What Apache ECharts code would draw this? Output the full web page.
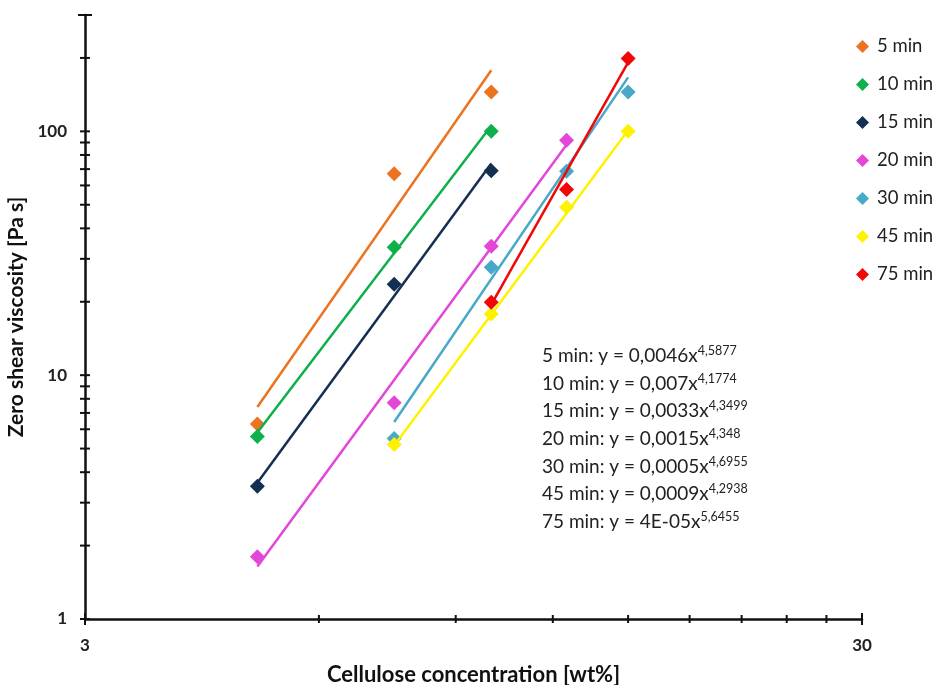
<!DOCTYPE html>
<html>
<head>
<meta charset="utf-8">
<script src="https://cdn.jsdelivr.net/npm/echarts@6/dist/echarts.min.js"></script>
<style>
  html, body { margin: 0; padding: 0; background: #fff; }
  #chart { width: 941px; height: 685px; }
</style>
</head>
<body>
<div id="chart"></div>
<script>
// Cellulose concentration (wt%) at which the viscosity was measured
const conc = [5, 7.5, 10, 12.5, 15];

// Dissolution time labels and marker colours
const seriesNames = ['5 min', '10 min', '15 min', '20 min', '30 min', '45 min', '75 min'];
const seriesColors = ['#EC7320', '#0DB04B', '#132F52', '#E247D8', '#47A9C7', '#FFF200', '#F20707'];

// Zero shear viscosity [Pa s] for each time, aligned with conc (null = not measured)
const visc5  = [6.3, 67, 145, null, null];
const visc10 = [5.6, 33.5, 100, null, null];
const visc15 = [3.5, 23.6, 69, null, null];
const visc20 = [1.8, 7.7, 33.8, 92, null];
const visc30 = [null, 5.5, 27.7, 68.6, 145];
const visc45 = [null, 5.2, 17.8, 48.8, 100];
const visc75 = [null, null, 19.9, 57.8, 199];
const viscAll = [visc5, visc10, visc15, visc20, visc30, visc45, visc75];

// Power-law fits y = a * x^b (the printed prefactor is rounded)
const fitA = [0.0046, 0.007, 0.0033, 0.0015, 0.0005, 0.0009, 4.4e-5];
const fitB = [4.5877, 4.1774, 4.3499, 4.348, 4.6955, 4.2938, 5.6455];
const fitAText = ['0,0046', '0,007', '0,0033', '0,0015', '0,0005', '0,0009', '4E-05'];
const fitBText = ['4,5877', '4,1774', '4,3499', '4,348', '4,6955', '4,2938', '5,6455'];

// Axis ticks
const xTicks = [3, 6, 9, 12, 15, 18, 21, 24, 27, 30];
const yTicks = [1, 2, 3, 4, 5, 6, 7, 8, 9, 10, 20, 30, 40, 50, 60, 70, 80, 90, 100, 200, 300];

const FONT = 'Lato';

const scatterSeries = viscAll.map((vals, i) => ({
  name: seriesNames[i],
  type: 'scatter',
  symbol: 'diamond',
  symbolSize: 15,
  itemStyle: { color: seriesColors[i], opacity: 1 },
  data: conc.map((c, j) => vals[j] == null ? null : [c, vals[j]]).filter(d => d),
  z: 3
}));

const trendSeries = viscAll.map((vals, i) => {
  const xs = conc.filter((c, j) => vals[j] != null);
  const x0 = xs[0], x1 = xs[xs.length - 1];
  return {
    type: 'line',
    showSymbol: false,
    silent: true,
    lineStyle: { color: seriesColors[i], width: 2.5 },
    data: [[x0, fitA[i] * Math.pow(x0, fitB[i])], [x1, fitA[i] * Math.pow(x1, fitB[i])]],
    z: 4
  };
});

// Tick marks crossing the axes
const tickSeries = [
  {
    type: 'custom',
    silent: true,
    data: yTicks.map(v => [3, v]),
    renderItem: (params, api) => {
      const p = api.coord([api.value(0), api.value(1)]);
      const v = api.value(1);
      const half = v === 300 ? 7 : 5;
      return { type: 'line', shape: { x1: p[0] - half, y1: p[1], x2: p[0] + half, y2: p[1] },
               style: { stroke: '#111', lineWidth: 2 } };
    },
    clip: false,
    z: 5
  },
  {
    type: 'custom',
    silent: true,
    data: xTicks.map(v => [v, 1]),
    renderItem: (params, api) => {
      const p = api.coord([api.value(0), api.value(1)]);
      const v = api.value(0);
      const half = (v === 3 || v === 30) ? 6 : 4;
      return { type: 'line', shape: { x1: p[0], y1: p[1] - half, x2: p[0], y2: p[1] + half },
               style: { stroke: '#111', lineWidth: 2 } };
    },
    clip: false,
    z: 5
  }
];

const eqLines = seriesNames.map((n, i) => '{n|' + n + ': y = ' + fitAText[i] + 'x}{s|' + fitBText[i] + '}').join('\n');

const chart = echarts.init(document.getElementById('chart'), null, { renderer: 'canvas' });
chart.setOption({
  backgroundColor: '#fff',
  animation: false,
  textStyle: { fontFamily: FONT },
  grid: { left: 85, right: 79, top: 15, bottom: 66, containLabel: false, outerBoundsMode: 'none' },
  xAxis: {
    type: 'log',
    logBase: 10,
    min: 3,
    max: 30,
    name: 'Cellulose concentration [wt%]',
    nameLocation: 'middle',
    nameGap: 45,
    nameTextStyle: { fontFamily: FONT, fontSize: 22, fontWeight: 'bold', color: '#111' },
    axisLine: { lineStyle: { color: '#111', width: 2.5 } },
    axisTick: { show: false },
    splitLine: { show: false },
    axisLabel: {
      fontFamily: FONT, fontSize: 17, fontWeight: 'bold', color: '#222', margin: 18,
      formatter: v => (Math.abs(v - 3) < 1e-6 ? '3' : (Math.abs(v - 30) < 1e-4 ? '30' : ''))
    }
  },
  yAxis: {
    type: 'log',
    logBase: 10,
    min: 1,
    max: 300,
    name: 'Zero shear viscosity [Pa s]',
    nameLocation: 'middle',
    nameGap: 49,
    nameTextStyle: { fontFamily: FONT, fontSize: 21, fontWeight: 'bold', color: '#111' },
    axisLine: { lineStyle: { color: '#111', width: 2.5 } },
    axisTick: { show: false },
    splitLine: { show: false },
    axisLabel: {
      fontFamily: FONT, fontSize: 17, fontWeight: 'bold', color: '#222', margin: 18,
      showMaxLabel: false,
      formatter: v => String(Math.round(v))
    }
  },
  legend: {
    orient: 'vertical',
    left: 851,
    top: 32,
    itemWidth: 13,
    itemHeight: 13,
    itemGap: 19,
    icon: 'diamond',
    data: seriesNames,
    textStyle: { fontFamily: FONT, fontSize: 18.5, color: '#222', padding: [0, 0, 0, 3] }
  },
  graphic: [{
    type: 'text',
    left: 542,
    top: 342,
    style: {
      text: eqLines,
      fontFamily: FONT,
      fontSize: 19,
      lineHeight: 27.7,
      fill: '#222',
      rich: {
        n: { fontFamily: FONT, fontSize: 19, fill: '#222', lineHeight: 27.7 },
        s: { fontFamily: FONT, fontSize: 12.5, fill: '#222', padding: [0, 0, 10, 0], lineHeight: 27.7 }
      }
    }
  }],
  series: [...scatterSeries, ...trendSeries, ...tickSeries]
});
</script>
</body>
</html>
